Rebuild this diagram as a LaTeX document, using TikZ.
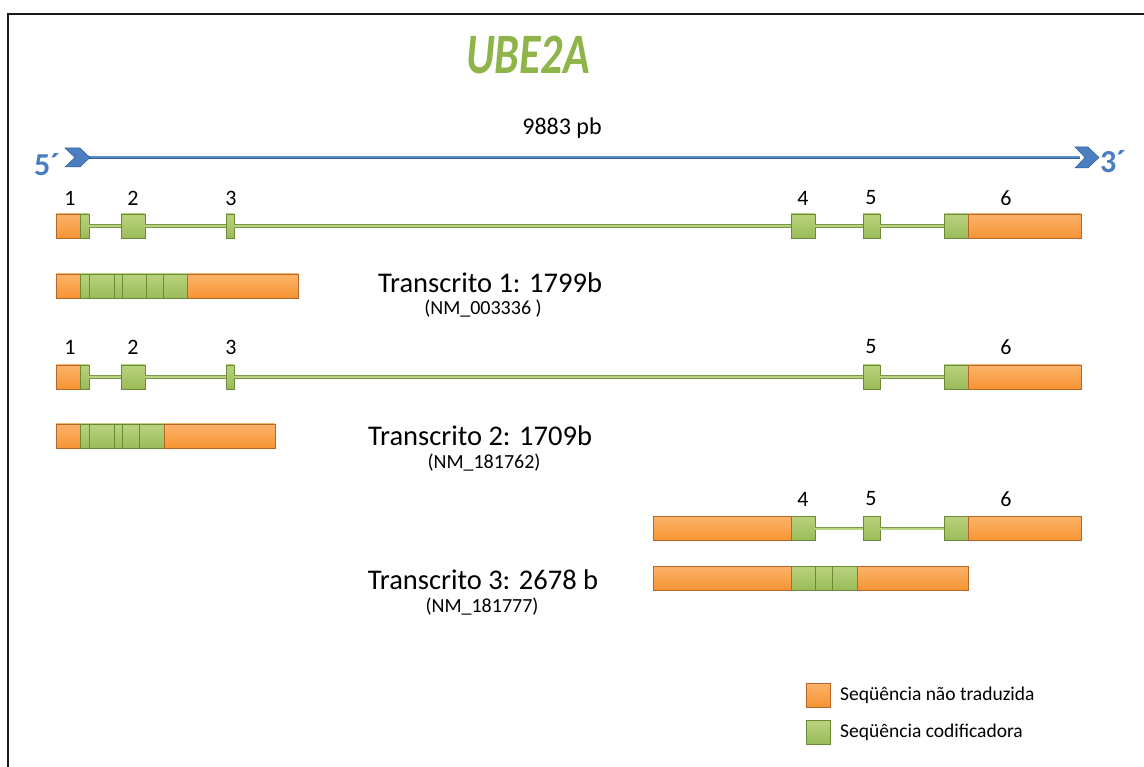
\documentclass[tikz,border=0pt]{standalone}
\usepackage{fontspec}
\setmainfont{Carlito}
\usepackage{graphicx}
\usetikzlibrary{arrows.meta,calc,positioning}
\definecolor{utrorange}{HTML}{F79433}
\definecolor{utrlight}{HTML}{FBB36A}
\definecolor{utrdark}{HTML}{B5672A}
\definecolor{cdsgreen}{HTML}{9BBB59}
\definecolor{cdslight}{HTML}{B9D37E}
\definecolor{cdsdark}{HTML}{6B8A36}
\definecolor{dnablue}{HTML}{4A7EC0}
\definecolor{dnadark}{HTML}{2F5E9C}
\definecolor{titlegreen}{HTML}{8FB449}
\definecolor{framegray}{HTML}{1A1A1A}

\begin{document}
\begin{tikzpicture}[
  x=1pt,
  y=-1pt,
  utrpart/.style={
    draw=utrdark,
    line width=.6pt,
    top color=utrlight,
    bottom color=utrorange
  },
  cdspart/.style={
    draw=cdsdark,
    line width=.6pt,
    top color=cdslight,
    bottom color=cdsgreen
  },
  utr/.style={
    utrpart,
    anchor=west,
    inner sep=0pt,
    outer sep=0pt,
    minimum height=24pt,
    minimum width=#1
  },
  cds/.style={
    cdspart,
    anchor=west,
    inner sep=0pt,
    outer sep=0pt,
    minimum height=24pt,
    minimum width=#1
  },
  intron/.style={
    draw=cdsdark!90,
    line width=.8pt,
    double=cdslight,
    double distance=2pt
  },
  dnaline/.style={
    draw=dnadark,
    line width=.8pt,
    double=dnablue!90!white,
    double distance=2pt
  },
  chevron/.style={
    fill=dnablue,
    draw=dnadark,
    line width=.5pt
  },
  num/.style={font=\fontsize{22}{24}\selectfont},
  tname/.style={font=\fontsize{28.5}{32}\selectfont},
  tid/.style={font=\fontsize{20}{22}\selectfont},
  keytext/.style={anchor=west,font=\fontsize{19.5}{22}\selectfont,inner sep=2pt},
  endlabel/.style={text=dnablue,font=\fontsize{32}{34}\selectfont\bfseries}
]

\useasboundingbox (0,0) rectangle (1144,767);
\fill[white] (0,0) rectangle (1144,767);

\draw[framegray,line width=2.4pt] (8,767) -- (8,14) -- (1144,14);

\node[text=titlegreen,font=\fontsize{44}{48}\selectfont\bfseries\itshape]
  (gene) at (528,55) {\scalebox{1}[1.3]{UBE2A}};

\node[font=\fontsize{24}{28}\selectfont] (length) at (562,128) {9883 pb};

\coordinate (dna5) at (86,157.5);
\coordinate (dna3) at (1080,157.5);
\draw[dnaline] (dna5) -- (dna3);
\draw[chevron] (65,148) -- (80,148) -- (90,157.5) -- (80,167)
  -- (65,167) -- (75,157.5) -- cycle;
\draw[chevron] (1075,147) -- (1088,147) -- (1099,157.5) -- (1088,168)
  -- (1075,168) -- (1085,157.5) -- cycle;
\node[endlabel] (end5) at (47,165) {5´};
\node[endlabel] (end3) at (1113,162) {3´};

% gene, transcript 1
\node[utr=24pt]  (g1x1u) at (56,226) {};
\node[cds=9pt]   (g1x1)  at (80,226) {};
\node[cds=24pt]  (g1x2)  at (121,226) {};
\node[cds=8pt]   (g1x3)  at (226,226) {};
\node[cds=24pt]  (g1x4)  at (791,226) {};
\node[cds=17pt]  (g1x5)  at (863,226) {};
\node[cds=24pt]  (g1x6)  at (944,226) {};
\node[utr=113pt] (g1x6u) at (968,226) {};
\foreach \a/\b in {g1x1/g1x2,g1x2/g1x3,g1x3/g1x4,g1x4/g1x5,g1x5/g1x6} {
  \draw[intron] (\a.east) -- (\b.west);
}
\foreach \n/\x in {1/70,2/133,3/231,4/803,5/871,6/1006} {
  \node[num] (g1n\n) at (\x,198) {\n};
}

\draw[utrpart] (56,274) rectangle (80,298);
\foreach \a/\b in {80/89,89/114,114/122,122/146,146/163,163/187} {
  \draw[cdspart] (\a,274) rectangle (\b,298);
}
\draw[utrpart] (187,274) rectangle (298,298);
\node[tname] (t1name) at (490,283) {Transcrito 1: 1799b};
\node[tid] (t1id) at (483,309) {(NM\_003336 )};

% gene, transcript 2
\node[utr=24pt]  (g2x1u) at (56,377) {};
\node[cds=9pt]   (g2x1)  at (80,377) {};
\node[cds=24pt]  (g2x2)  at (121,377) {};
\node[cds=8pt]   (g2x3)  at (226,377) {};
\node[cds=17pt]  (g2x5)  at (863,377) {};
\node[cds=24pt]  (g2x6)  at (944,377) {};
\node[utr=113pt] (g2x6u) at (968,377) {};
\foreach \a/\b in {g2x1/g2x2,g2x2/g2x3,g2x3/g2x5,g2x5/g2x6} {
  \draw[intron] (\a.east) -- (\b.west);
}
\foreach \n/\x in {1/70,2/133,3/231,5/871,6/1006} {
  \node[num] (g2n\n) at (\x,347) {\n};
}

\draw[utrpart] (56,424) rectangle (80,448);
\foreach \a/\b in {80/89,89/114,114/122,122/139,139/164} {
  \draw[cdspart] (\a,424) rectangle (\b,448);
}
\draw[utrpart] (164,424) rectangle (275,448);
\node[tname] (t2name) at (480,436) {Transcrito 2: 1709b};
\node[tid] (t2id) at (484,463) {(NM\_181762)};

% gene, transcript 3
\node[utr=138pt] (g3x4u) at (653,528.5) {};
\node[cds=24pt]  (g3x4)  at (791,528.5) {};
\node[cds=17pt]  (g3x5)  at (863,528.5) {};
\node[cds=24pt]  (g3x6)  at (944,528.5) {};
\node[utr=113pt] (g3x6u) at (968,528.5) {};
\foreach \a/\b in {g3x4/g3x5,g3x5/g3x6} {
  \draw[intron] (\a.east) -- (\b.west);
}
\foreach \n/\x in {4/803,5/871,6/1006} {
  \node[num] (g3n\n) at (\x,499) {\n};
}

\draw[utrpart] (653,566) rectangle (791,590);
\foreach \a/\b in {791/815,815/832,832/857} {
  \draw[cdspart] (\a,566) rectangle (\b,590);
}
\draw[utrpart] (857,566) rectangle (968,590);
\node[tname] (t3name) at (483,580) {Transcrito 3: 2678 b};
\node[tid] (t3id) at (482,607) {(NM\_181777)};

% key
\node[utr=24pt] (keyutr) at (806,695) {};
\node[cds=24pt] (keycds) at (806,732) {};
\node[keytext,right=8pt of keyutr] (keyutrtext) {Seqüência não traduzida};
\node[keytext,right=8pt of keycds] (keycdstext) {Seqüência codificadora};

\end{tikzpicture}
\end{document}
